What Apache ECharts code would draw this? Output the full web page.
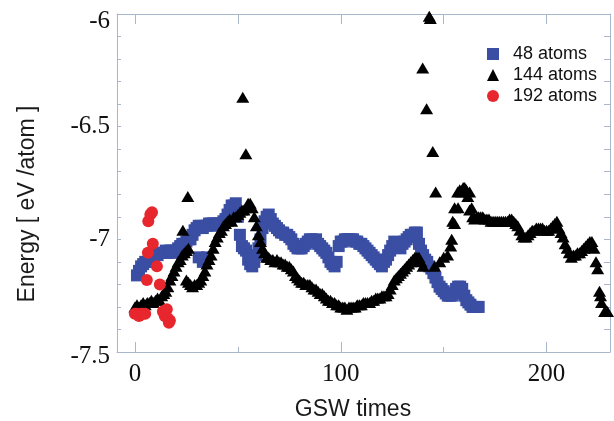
<!DOCTYPE html>
<html>
<head>
<meta charset="utf-8">
<script src="https://cdn.jsdelivr.net/npm/echarts@6/dist/echarts.min.js"></script>
<style>
  html, body { margin: 0; padding: 0; background: #ffffff; }
  #chart { width: 614px; height: 421px; }
</style>
</head>
<body>
<div id="chart"></div>
<script>
// Series names and axis ticks
const seriesNames = ['48 atoms', '144 atoms', '192 atoms'];
const xMajorTicks = [0, 100, 200];
const xMinorTicks = [50, 150];
const xTopTicks = [0, 50, 100, 150, 200];

// 48 atoms: energy per GSW step
const atoms48 = [
  [1,-7.16],[2,-7.14],[3,-7.12],[4,-7.11],[5,-7.10],[6,-7.10],[7,-7.09],[8,-7.08],[9,-7.08],[10,-7.07],
  [11,-7.07],[12,-7.06],[13,-7.06],[14,-7.06],[15,-7.05],[16,-7.06],[17,-7.05],[18,-7.05],[19,-7.06],[20,-7.05],
  [21,-7.04],[22,-7.03],[23,-7.02],[24,-7.02],[25,-7.01],[26,-7.00],[27,-7.00],[28,-6.98],[29,-6.96],[30,-6.95],
  [31,-6.94],[32,-6.94],[33,-6.95],[34,-6.94],[35,-6.94],[36,-6.93],[37,-6.93],[38,-6.93],[39,-6.93],[40,-6.94],
  [31,-7.08],[33,-7.10],[35,-7.08],
  [41,-6.93],[42,-6.93],[43,-6.92],[44,-6.91],[45,-6.89],[46,-6.87],[47,-6.85],[48,-6.85],[49,-6.84],[50,-6.90],
  [51,-6.98],[52,-7.03],[53,-7.04],[54,-7.05],[55,-7.09],[56,-7.11],[57,-7.12],[58,-7.10],[59,-7.07],[60,-7.04],
  [61,-7.00],[62,-6.95],[63,-6.92],[64,-6.90],[65,-6.89],[66,-6.91],[67,-6.93],[68,-6.94],[69,-6.95],[70,-6.96],
  [71,-6.97],[72,-6.97],[73,-6.98],[74,-6.98],[75,-6.99],[76,-7.00],[77,-7.02],[78,-7.03],[79,-7.04],[80,-7.04],
  [81,-7.04],[82,-7.03],[83,-7.02],[84,-7.01],[85,-7.00],[86,-7.00],[87,-7.01],[88,-7.00],[89,-7.02],[90,-7.03],
  [91,-7.04],[92,-7.05],[93,-7.06],[94,-7.08],[95,-7.10],[96,-7.11],[97,-7.12],[98,-7.10],[99,-7.03],[100,-7.01],
  [101,-7.01],[102,-7.00],[103,-7.00],[104,-7.00],[105,-7.00],[106,-7.00],[107,-7.01],[108,-7.01],[109,-7.02],[110,-7.02],
  [111,-7.03],[112,-7.04],[113,-7.05],[114,-7.06],[115,-7.07],[116,-7.08],[117,-7.09],[118,-7.10],[119,-7.11],[120,-7.12],
  [121,-7.10],[122,-7.09],[123,-7.07],[124,-7.05],[125,-7.03],[126,-7.01],[127,-7.02],[128,-7.03],[129,-7.04],[130,-7.02],
  [131,-7.01],[132,-7.00],[133,-6.99],[134,-6.98],[135,-6.98],[136,-6.97],[137,-6.97],[138,-7.02],[139,-7.05],[140,-7.07],
  [141,-7.09],[142,-7.10],[143,-7.12],[144,-7.13],[145,-7.15],[146,-7.17],[147,-7.19],[148,-7.21],[149,-7.22],[150,-7.23],
  [151,-7.24],[152,-7.25],[153,-7.25],[154,-7.25],[155,-7.24],[156,-7.22],[157,-7.21],[158,-7.21],[159,-7.22],[160,-7.25],
  [161,-7.27],[162,-7.28],[163,-7.29],[164,-7.30],[165,-7.30],[166,-7.30],[167,-7.30]
];

// 144 atoms
const atoms144 = [
  [0,-7.30],[1,-7.29],[2,-7.30],[3,-7.29],[4,-7.28],[5,-7.29],[6,-7.28],[7,-7.28],[8,-7.27],[9,-7.28],
  [10,-7.27],[11,-7.26],[12,-7.27],[13,-7.25],[14,-7.24],
  [15,-7.23],[16,-7.21],[17,-7.18],[18,-7.16],[19,-7.14],[20,-7.12],[21,-7.10],[22,-7.09],[23,-7.07],[24,-7.06],
  [25,-7.05],[26,-7.04],
  [23.3,-6.96],[25.7,-6.81],
  [25,-7.18],[26,-7.19],[27,-7.20],[28,-7.21],[29,-7.20],[30,-7.20],[31,-7.19],[32,-7.18],[33,-7.16],[34,-7.14],
  [35,-7.11],[36,-7.09],[37,-7.07],[38,-7.04],[39,-7.01],[40,-6.99],[41,-6.97],[42,-6.96],[43,-6.94],[44,-6.93],
  [45,-6.92],[46,-6.91],[47,-6.92],[48,-6.90],[49,-6.90],[50,-6.89],[51,-6.88],[52,-6.87],[53,-6.87],[54,-6.86],
  [55,-6.84],[56,-6.84],
  [52.4,-6.37],[53.9,-6.62],
  [57,-6.86],[58,-6.90],[59,-6.94],[60,-6.98],[61,-7.01],[62,-7.04],[63,-7.06],[64,-7.08],[65,-7.08],[66,-7.09],
  [67,-7.09],[68,-7.10],[69,-7.09],[70,-7.10],[71,-7.10],[72,-7.11],[73,-7.11],[74,-7.12],[75,-7.12],[76,-7.13],
  [77,-7.14],[78,-7.16],[79,-7.17],[80,-7.18],[81,-7.19],[82,-7.19],[83,-7.20],[84,-7.20],[85,-7.20],[86,-7.21],
  [87,-7.22],[88,-7.22],[89,-7.23],[90,-7.24],[91,-7.24],[92,-7.25],[93,-7.26],[94,-7.27],[95,-7.27],[96,-7.28],
  [97,-7.28],[98,-7.29],[99,-7.29],[100,-7.30],[101,-7.30],[102,-7.30],[103,-7.31],[104,-7.30],[105,-7.30],[106,-7.30],
  [107,-7.30],[108,-7.29],[109,-7.29],[110,-7.29],[111,-7.28],[112,-7.28],[113,-7.28],[114,-7.28],[115,-7.27],[116,-7.27],
  [117,-7.26],[118,-7.26],[119,-7.26],[120,-7.25],[121,-7.25],[122,-7.25],[123,-7.24],[124,-7.22],[125,-7.20],[126,-7.18],
  [127,-7.17],[128,-7.16],[129,-7.15],[130,-7.14],[131,-7.13],[132,-7.12],[133,-7.11],[134,-7.10],[135,-7.09],[136,-7.08],
  [137,-7.08],[138,-7.08],[139,-7.10],[140,-7.12],
  [139.8,-6.24],[141.7,-6.42],[143,-6.01],[143.5,-6.02],[144.7,-6.61],[146.1,-6.79],
  [145.6,-7.12],[148.1,-7.10],[150,-7.08],[151.9,-7.07],[153.4,-7.03],[153.9,-7.00],[154.4,-6.92],[155.3,-6.86],
  [156.8,-6.79],[157.8,-6.78],[158.7,-6.79],[159.5,-6.77],[160.2,-6.77],[161,-6.78],[161.7,-6.81],
  [155.3,-6.93],[157,-6.86],[162.6,-6.79],[162.6,-6.87],[163.6,-6.86],[164.1,-6.90],
  [165,-6.91],[166,-6.90],[167,-6.90],[168,-6.90],[169,-6.90],[170,-6.91],[171,-6.91],[172,-6.91],[173,-6.92],[174,-6.92],
  [175,-6.92],[176,-6.92],[177,-6.92],[178,-6.92],[179,-6.92],[180,-6.92],[181,-6.92],[182,-6.91],[183,-6.91],[184,-6.92],
  [185,-6.93],[186,-6.94],[187,-6.96],[188,-6.98],[189,-6.99],[190,-6.99],[191,-6.98],[192,-6.97],[193,-6.96],[194,-6.96],
  [195,-6.95],[196,-6.95],[197,-6.95],[198,-6.95],[199,-6.96],[200,-6.96],[201,-6.96],[202,-6.95],[203,-6.94],[204,-6.93],
  [205,-6.92],[206,-6.95],[207,-6.97],[208,-6.99],[209,-7.02],[210,-7.04],[211,-7.06],[212,-7.08],[213,-7.07],[214,-7.07],
  [215,-7.06],[216,-7.06],[217,-7.05],[218,-7.04],[219,-7.03],[220,-7.02],[221,-7.01],[222,-7.01],[223,-7.04],[224,-7.10],
  [224.8,-7.13],[225.7,-7.23],[226.2,-7.25],[226.7,-7.28],[228.2,-7.32],[229.6,-7.32]
];

// 192 atoms
const atoms192 = [
  [0,-7.33],[1,-7.33],[2,-7.34],[3,-7.33],[4,-7.33],[5,-7.33],
  [5.8,-7.18],[6.3,-7.06],[6.5,-6.92],[7.5,-6.89],[8.3,-6.88],[8.7,-7.02],[10.7,-7.12],[12.1,-7.20],
  [13.6,-7.32],[14.5,-7.34],[15.5,-7.31],[16,-7.35],[17,-7.36],[16.5,-7.37]
];

const axisColor = '#a9b7cb';
const serif = 'Liberation Serif';
const sans = 'Liberation Sans';

const chart = echarts.init(document.getElementById('chart'), null, { renderer: 'canvas' });

const xRange = { min: -8.7, max: 230.8 };
const yRange = { min: -7.5, max: -6 };

// End labels of the energy axis sit a little below their ticks
function energyLabel(value) {
  if (value === -6) return '{low|' + value + '}';
  if (value === -7.5) return '{lowSmall|' + value + '}';
  return String(value);
}

chart.setOption({
  backgroundColor: '#ffffff',
  animation: false,
  grid: { left: 117, right: 4, top: 14, bottom: 69, containLabel: false },
  legend: {
    orient: 'vertical',
    left: 482,
    top: 40,
    itemWidth: 12,
    itemHeight: 12,
    itemGap: 3,
    data: seriesNames,
    textStyle: { fontFamily: sans, fontSize: 18, color: '#111', padding: [0, 0, 0, 9] }
  },
  xAxis: [
    {
      type: 'value', position: 'bottom', ...xRange,
      axisLine: { show: true, onZero: false, lineStyle: { color: axisColor, width: 1 } },
      axisTick: { show: true, inside: true, length: 10, customValues: xMajorTicks, lineStyle: { color: axisColor } },
      axisLabel: { show: true, customValues: xMajorTicks, fontFamily: serif, fontSize: 25, color: '#111', margin: 10 },
      splitLine: { show: false }
    },
    {
      type: 'value', position: 'bottom', ...xRange,
      axisLine: { show: false, onZero: false },
      axisTick: { show: true, inside: true, length: 5, customValues: xMinorTicks, lineStyle: { color: axisColor } },
      axisLabel: { show: false },
      splitLine: { show: false }
    },
    {
      type: 'value', position: 'top', ...xRange,
      axisLine: { show: true, onZero: false, lineStyle: { color: axisColor, width: 1 } },
      axisTick: { show: true, inside: true, length: 10, customValues: xTopTicks, lineStyle: { color: axisColor } },
      axisLabel: { show: false },
      splitLine: { show: false }
    }
  ],
  yAxis: [
    {
      type: 'value', position: 'left', ...yRange, interval: 0.5,
      axisLine: { show: true, onZero: false, lineStyle: { color: axisColor, width: 1 } },
      axisTick: { show: true, inside: true, length: 4, lineStyle: { color: axisColor } },
      minorTick: { show: true, splitNumber: 5, length: 4, lineStyle: { color: axisColor } },
      axisLabel: {
        show: true, fontFamily: serif, fontSize: 25, color: '#111', margin: 7,
        formatter: energyLabel,
        rich: {
          low: { fontFamily: serif, fontSize: 25, color: '#111', padding: [14, 0, 0, 0] },
          lowSmall: { fontFamily: serif, fontSize: 25, color: '#111', padding: [9, 0, 0, 0] }
        }
      },
      splitLine: { show: false }
    },
    {
      type: 'value', position: 'right', ...yRange, interval: 0.5,
      axisLine: { show: true, onZero: false, lineStyle: { color: axisColor, width: 1 } },
      axisTick: { show: true, inside: true, length: 6, lineStyle: { color: axisColor } },
      minorTick: { show: true, splitNumber: 5, length: 6, lineStyle: { color: axisColor } },
      axisLabel: { show: false },
      splitLine: { show: false }
    }
  ],
  series: [
    {
      name: seriesNames[0], type: 'scatter', data: atoms48, clip: false,
      symbol: 'rect', symbolSize: 12,
      itemStyle: { color: '#3a4ea3', opacity: 1 }, z: 2
    },
    {
      name: seriesNames[1], type: 'scatter', data: atoms144, clip: false,
      symbol: 'triangle', symbolSize: [13, 11],
      itemStyle: { color: '#000000', opacity: 1 }, z: 3
    },
    {
      name: seriesNames[2], type: 'scatter', data: atoms192, clip: false,
      symbol: 'circle', symbolSize: 12,
      itemStyle: { color: '#e8262d', opacity: 1 }, z: 4
    }
  ],
  graphic: [
    {
      type: 'text', x: 28, y: 204, rotation: Math.PI / 2,
      style: {
        text: 'Energy [ eV /atom ]', fontFamily: sans, fontSize: 23, fill: '#1a1a1a',
        align: 'center', verticalAlign: 'middle'
      }
    },
    {
      type: 'text', x: 353, y: 410,
      style: {
        text: 'GSW times', fontFamily: sans, fontSize: 23, fill: '#1a1a1a',
        align: 'center', verticalAlign: 'middle'
      }
    }
  ]
});
</script>
</body>
</html>
